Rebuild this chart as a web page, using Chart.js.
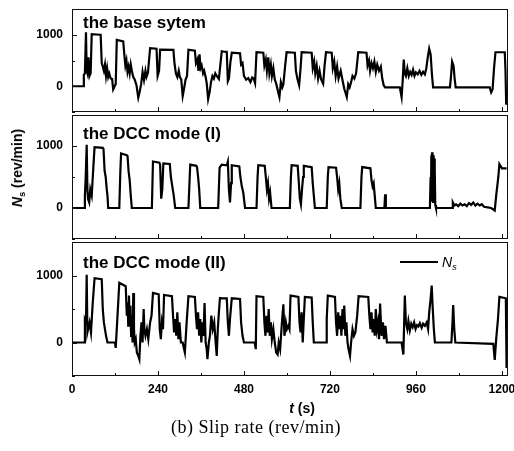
<!DOCTYPE html>
<html>
<head>
<meta charset="utf-8">
<script src="https://cdn.jsdelivr.net/npm/chart.js@4.4.1/dist/chart.umd.min.js"></script>
<style>
  html, body { margin: 0; padding: 0; background: #fff; }
  #wrap { position: relative; width: 514px; height: 451px; overflow: hidden; font-family: 'Liberation Sans', Arial, sans-serif; color: #000; }
  .panel { position: absolute; left: 0; width: 514px; }
  .ptitle { position: absolute; left: 83px; font-weight: bold; font-size: 17px; line-height: 17px; white-space: nowrap; }
  #ylab { position: absolute; left: 17px; top: 168px; transform: translate(-50%, -50%) rotate(-90deg); font-weight: bold; font-size: 14px; line-height: 16px; white-space: nowrap; }
  #ylab sub, #leg sub { font-size: 9px; vertical-align: -3px; line-height: 0; }
  #legline { position: absolute; left: 400px; top: 261px; width: 38px; height: 2px; background: #000; }
  #leg { position: absolute; left: 442px; top: 254px; font-style: italic; font-size: 14px; line-height: 16px; }
  #xlab { position: absolute; left: 302px; top: 400px; transform: translateX(-50%); font-weight: bold; font-size: 14px; line-height: 16px; white-space: nowrap; }
  #caption { position: absolute; left: 256px; top: 417px; transform: translateX(-50%); font-family: 'Liberation Serif', 'Times New Roman', serif; font-size: 18px; letter-spacing: 0.5px; line-height: 20px; white-space: nowrap; }
</style>
</head>
<body>
<div id="wrap">
  <div class="panel" style="top:0;height:122px"><canvas id="p1"></canvas></div>
  <div class="panel" style="top:105px;height:144px"><canvas id="p2"></canvas></div>
  <div class="panel" style="top:232px;height:174px"><canvas id="p3"></canvas></div>
  <div class="ptitle" style="top:13.5px">the base sytem</div>
  <div class="ptitle" style="top:124.5px">the DCC mode (I)</div>
  <div class="ptitle" style="top:253.5px">the DCC mode (II)</div>
  <div id="legline"></div>
  <div id="leg">N<sub>s</sub></div>
  <div id="ylab"><i>N</i><sub>s</sub> (rev/min)</div>
  <div id="xlab"><i>t</i> (s)</div>
  <div id="caption">(b) Slip rate (rev/min)</div>
</div>
<script>
// axis setup
const xMin = 0, xMax = 1217;
const yMin = -500, yMax = 1500;
const xTickValues = [0, 240, 480, 720, 960, 1200];
const xMinorTicks = [120, 360, 600, 840, 1080];
const yTickValues = [0, 1000];
const yMinorTicks = [-500, 500, 1500];

// slip rate N_s (rev/min) vs t (s)
const baseSeries = [
  [0,0],[31,0],[33,220],[36,250],[39,1050],[41,300],[43,250],[46,560],[49,200],[52,250],[55,1010],[78,1000],[80,1000],
  [83,450],[86,380],[89,300],[92,420],[95,200],[98,350],[101,180],[104,250],[108,150],[112,140],[115,-60],[119,0],[122,40],
  [125,900],[143,870],[146,620],[149,400],[152,500],[155,280],[158,380],[161,250],[164,420],[167,300],[171,180],[175,130],
  [180,20],[185,-220],[189,-100],[193,40],[197,280],[201,120],[205,300],[208,180],[212,260],[218,740],[236,730],[239,200],
  [243,300],[246,710],[283,705],[286,450],[290,250],[294,180],[298,300],[301,180],[305,130],[309,-190],[313,-40],[317,130],
  [321,200],[325,710],[343,690],[346,450],[350,520],[353,300],[356,620],[359,350],[362,400],[366,250],[369,300],[373,180],
  [376,60],[380,-250],[384,-120],[388,80],[392,200],[396,150],[400,250],[404,200],[410,140],[418,680],[425,670],[432,670],
  [435,100],[438,150],[442,460],[446,650],[469,640],[472,420],[476,450],[480,200],[486,130],[492,160],[498,80],[503,170],
  [507,150],[511,60],[515,660],[534,650],[537,400],[541,520],[544,300],[548,560],[551,250],[555,420],[558,200],[562,350],
  [566,130],[570,50],[575,-100],[579,-210],[583,80],[587,-20],[590,40],[595,400],[599,660],[622,650],[625,300],[629,150],
  [634,20],[638,350],[641,660],[669,650],[672,350],[676,480],[679,250],[683,400],[687,150],[691,300],[695,140],[701,50],
  [705,400],[709,660],[725,650],[728,350],[732,480],[736,200],[740,380],[744,150],[750,300],[755,120],[760,-50],[767,-210],
  [771,40],[775,-20],[779,80],[783,200],[788,150],[793,250],[799,660],[822,650],[825,400],[829,500],[832,300],[836,450],
  [840,350],[844,480],[848,280],[852,420],[857,300],[862,380],[866,150],[870,20],[874,-20],[915,-20],[920,-210],[923,100],
  [926,520],[929,250],[932,200],[936,350],[940,200],[944,280],[948,220],[952,320],[956,200],[960,270],[965,230],[970,300],
  [975,220],[980,280],[985,230],[989,350],[993,560],[997,730],[1001,620],[1005,200],[1008,-20],[1055,-20],[1058,200],
  [1061,480],[1065,400],[1068,150],[1071,-20],[1166,-20],[1170,-120],[1174,-60],[1178,350],[1182,660],[1208,660],
  [1210,300],[1212,-360]
];

const dcc1Series = [
  [0,0],[34,0],[36,200],[38,460],[41,1020],[43,300],[45,140],[48,90],[51,300],[55,200],[60,700],[63,980],[86,970],[88,950],
  [91,600],[94,500],[97,300],[99,200],[101,0],[132,0],[135,600],[137,880],[153,850],[155,840],[158,590],[161,450],[164,200],
  [167,0],[223,0],[226,750],[244,730],[246,700],[249,150],[252,300],[255,720],[273,710],[276,500],[280,350],[284,200],
  [288,0],[325,0],[330,700],[347,680],[349,660],[352,500],[355,300],[358,0],[408,0],[412,650],[418,700],[432,690],[435,750],
  [438,300],[441,90],[444,400],[446,690],[467,670],[470,500],[474,350],[478,250],[483,0],[515,0],[518,500],[520,690],
  [538,680],[541,500],[544,300],[547,400],[550,150],[553,250],[557,0],[608,0],[611,500],[613,690],[630,680],[633,420],
  [636,150],[639,60],[642,300],[645,500],[647,680],[669,660],[672,400],[675,200],[678,0],[711,0],[714,500],[716,660],
  [737,650],[740,500],[743,300],[746,400],[749,150],[753,0],[805,0],[808,500],[810,660],[833,640],[836,450],[839,350],
  [842,400],[845,200],[848,0],[872,0],[874,220],[876,0],[999,0],[1001,500],[1002,100],[1003,850],[1004,200],[1005,900],
  [1006,150],[1007,880],[1008,100],[1009,850],[1010,200],[1011,800],[1012,100],[1013,600],[1014,50],[1016,0],[1061,0],
  [1063,90],[1067,40],[1072,60],[1078,30],[1084,70],[1090,40],[1096,60],[1102,30],[1108,80],[1114,50],[1120,90],[1126,40],
  [1132,70],[1138,40],[1144,60],[1150,20],[1160,10],[1170,0],[1180,-40],[1184,200],[1190,500],[1193,710],[1200,640],
  [1213,640]
];

const dcc2Series = [
  [0,0],[34,0],[36,340],[39,300],[41,1010],[43,150],[45,200],[49,300],[53,150],[58,600],[63,960],[83,945],[86,490],[89,300],
  [92,200],[95,100],[99,0],[120,0],[122,-80],[126,300],[132,890],[150,840],[153,400],[155,600],[157,250],[159,700],[161,300],
  [163,550],[165,100],[167,400],[169,0],[171,740],[173,200],[175,0],[178,50],[181,-150],[185,-200],[188,-250],[191,100],
  [194,300],[197,0],[200,500],[202,200],[205,100],[209,200],[213,50],[218,300],[222,400],[226,740],[242,720],[245,200],
  [248,50],[251,300],[254,200],[257,710],[279,690],[282,400],[285,150],[288,350],[291,100],[294,450],[297,50],[300,300],
  [304,0],[309,0],[312,-80],[315,-150],[320,300],[325,690],[343,680],[346,400],[349,200],[352,450],[355,100],[358,350],
  [361,0],[364,300],[367,100],[370,590],[373,0],[376,-100],[378,-250],[382,0],[385,100],[389,400],[393,200],[397,300],
  [401,0],[404,-200],[407,200],[410,450],[413,665],[418,660],[432,660],[435,300],[438,100],[441,350],[446,660],[469,650],
  [472,300],[476,100],[480,0],[510,0],[513,-100],[515,690],[534,680],[537,300],[540,100],[543,400],[546,150],[549,500],
  [552,100],[555,300],[558,50],[562,200],[566,0],[570,-150],[574,-180],[577,0],[581,-100],[586,300],[590,570],[593,100],
  [597,300],[600,200],[604,250],[607,200],[610,700],[632,680],[635,300],[638,150],[641,450],[644,0],[647,350],[650,680],
  [669,670],[672,300],[675,0],[709,0],[711,350],[714,700],[734,680],[737,300],[740,100],[743,450],[746,200],[749,400],
  [752,100],[755,500],[757,200],[760,550],[763,100],[766,300],[769,0],[772,-100],[776,-200],[779,0],[783,200],[787,100],
  [791,150],[796,400],[800,690],[827,680],[830,400],[833,200],[836,450],[839,150],[842,350],[845,100],[848,500],[851,200],
  [854,300],[857,50],[860,580],[864,100],[868,300],[871,50],[875,250],[879,0],[920,0],[925,-180],[929,700],[932,300],
  [936,200],[939,320],[943,180],[947,280],[951,230],[955,300],[959,200],[963,260],[967,240],[971,290],[976,220],[980,280],
  [985,250],[990,300],[994,200],[997,450],[1001,650],[1004,850],[1007,500],[1010,200],[1013,0],[1059,0],[1062,300],
  [1064,560],[1067,200],[1070,0],[1176,-20],[1180,-260],[1184,50],[1189,350],[1193,680],[1211,660],[1213,-380]
];

Chart.defaults.font.family = "'Liberation Sans', Arial, sans-serif";
Chart.defaults.color = '#000';

// box round the plot area with inward ticks
const framePlugin = {
  id: 'frame',
  afterDraw(chart) {
    const { ctx, chartArea: a, scales: { x, y } } = chart;
    ctx.save();
    ctx.strokeStyle = '#111';
    ctx.lineWidth = 1;
    ctx.strokeRect(a.left + 0.5, a.top + 0.5, a.right - a.left - 1, a.bottom - a.top - 1);
    ctx.beginPath();
    xTickValues.forEach(v => {
      const p = Math.round(x.getPixelForValue(v)) + 0.5;
      ctx.moveTo(p, a.bottom); ctx.lineTo(p, a.bottom - 5);
    });
    xMinorTicks.forEach(v => {
      const p = Math.round(x.getPixelForValue(v)) + 0.5;
      ctx.moveTo(p, a.bottom); ctx.lineTo(p, a.bottom - 3);
    });
    yTickValues.forEach(v => {
      const p = Math.round(y.getPixelForValue(v)) + 0.5;
      ctx.moveTo(a.left, p); ctx.lineTo(a.left + 5, p);
    });
    yMinorTicks.forEach(v => {
      const p = Math.round(y.getPixelForValue(v)) + 0.5;
      ctx.moveTo(a.left, p); ctx.lineTo(a.left + 3, p);
    });
    ctx.stroke();
    ctx.restore();
  }
};

function makePanel(id, series, padTop, padBottom, showX) {
  return new Chart(document.getElementById(id), {
    type: 'line',
    data: {
      datasets: [{
        data: series.map(p => ({ x: p[0], y: p[1] })),
        borderColor: '#000',
        borderWidth: 2.2,
        pointRadius: 0,
        tension: 0,
        fill: false
      }]
    },
    options: {
      responsive: true,
      maintainAspectRatio: false,
      animation: false,
      layout: { padding: { top: padTop, bottom: padBottom, left: 0, right: 6 } },
      plugins: { legend: { display: false }, tooltip: { enabled: false } },
      scales: {
        x: {
          type: 'linear',
          min: xMin,
          max: xMax,
          display: showX,
          grid: { display: false, drawTicks: false },
          border: { display: false },
          ticks: { padding: 6, maxRotation: 0, font: { size: 12, weight: 'bold' }, callback: v => String(v) },
          afterBuildTicks: s => { s.ticks = xTickValues.map(v => ({ value: v })); },
          afterFit: s => { s.height = showX ? 30 : 0; s.paddingLeft = 0; s.paddingRight = 0; }
        },
        y: {
          min: yMin,
          max: yMax,
          grid: { display: false, drawTicks: false },
          border: { display: false },
          ticks: { padding: 9, font: { size: 12, weight: 'bold' }, callback: v => String(v) },
          afterBuildTicks: s => { s.ticks = yTickValues.map(v => ({ value: v })); },
          afterFit: s => { s.width = 72; s.paddingTop = 0; s.paddingBottom = 0; }
        }
      }
    },
    plugins: [framePlugin]
  });
}

makePanel('p1', baseSeries, 9, 10, false);
makePanel('p2', dcc1Series, 10, 10, false);
makePanel('p3', dcc2Series, 10, 0, true);
</script>
</body>
</html>
